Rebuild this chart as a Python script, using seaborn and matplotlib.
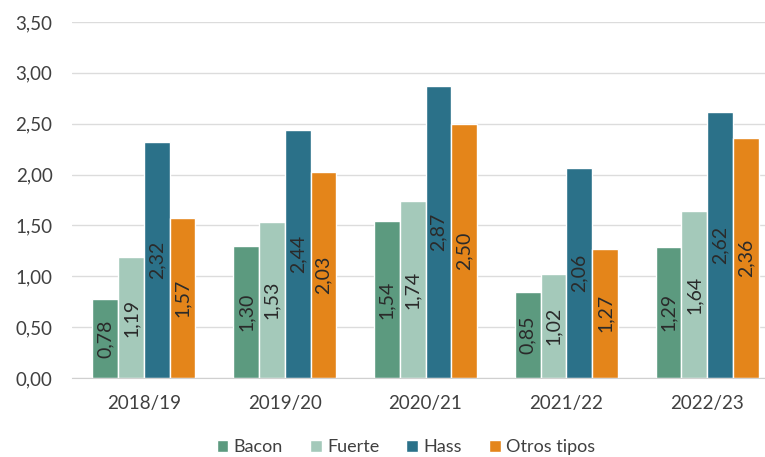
import seaborn as sns
import numpy as np
import pandas as pd
import matplotlib.pyplot as plt
from matplotlib.ticker import FuncFormatter

seasons = ["2018/19", "2019/20", "2020/21", "2021/22", "2022/23"]
varieties = ["Bacon", "Fuerte", "Hass", "Otros tipos"]
bacon = [0.78, 1.30, 1.54, 0.85, 1.29]
fuerte = [1.19, 1.53, 1.74, 1.02, 1.64]
hass = [2.32, 2.44, 2.87, 2.06, 2.62]
otros = [1.57, 2.03, 2.50, 1.27, 2.36]
colors = ["#5c9a7f", "#a4c9ba", "#2b7189", "#e4851a"]
yticks = [0, 0.5, 1.0, 1.5, 2.0, 2.5, 3.0, 3.5]

df = pd.DataFrame({
    "season": np.tile(seasons, 4),
    "variety": np.repeat(varieties, len(seasons)),
    "price": bacon + fuerte + hass + otros,
})

sns.set_style("white")
plt.rcParams["font.family"] = ["Lato", "DejaVu Sans"]

fig = plt.figure(figsize=(7.65, 4.57), dpi=100)
ax = fig.add_axes([72 / 765, 1 - 378 / 457, 693 / 765, (378 - 22) / 457])

sns.barplot(data=df, x="season", y="price", hue="variety", palette=colors,
            width=0.733, gap=0, saturation=1, ax=ax, legend=True)

# etiquetas de valor, giradas y centradas en cada barra
for cont in ax.containers:
    labels = [f"{b.get_height():.2f}".replace(".", ",") for b in cont]
    ax.bar_label(cont, labels=labels, label_type="center", rotation=90,
                 fontsize=14, color="#2a2a2a")

ax.set_ylim(0, 3.5)
ax.set_xlim(-0.51, 4.41)
ax.set_yticks(yticks)
ax.yaxis.set_major_formatter(FuncFormatter(lambda v, p: f"{v:.2f}".replace(".", ",")))
ax.grid(axis="y", color="#dcdcdc", linewidth=1)
ax.set_axisbelow(True)
for s in ["top", "right", "left"]:
    ax.spines[s].set_visible(False)
ax.spines["bottom"].set_color("#d0d0d0")
ax.tick_params(axis="both", length=0, labelsize=13.5, colors="#404040")
ax.tick_params(axis="x", pad=12)
ax.tick_params(axis="y", pad=14)
ax.set_xlabel("")
ax.set_ylabel("")

handles, labs = ax.get_legend_handles_labels()
ax.legend(handles, labs, loc="center", bbox_to_anchor=(406 / 765, 1 - 447 / 457),
          bbox_transform=fig.transFigure, ncol=4, frameon=False, fontsize=13,
          handlelength=0.65, handleheight=0.65, handletextpad=0.3, columnspacing=1.5,
          labelcolor="#404040")

fig.savefig("out.png", dpi=100)
